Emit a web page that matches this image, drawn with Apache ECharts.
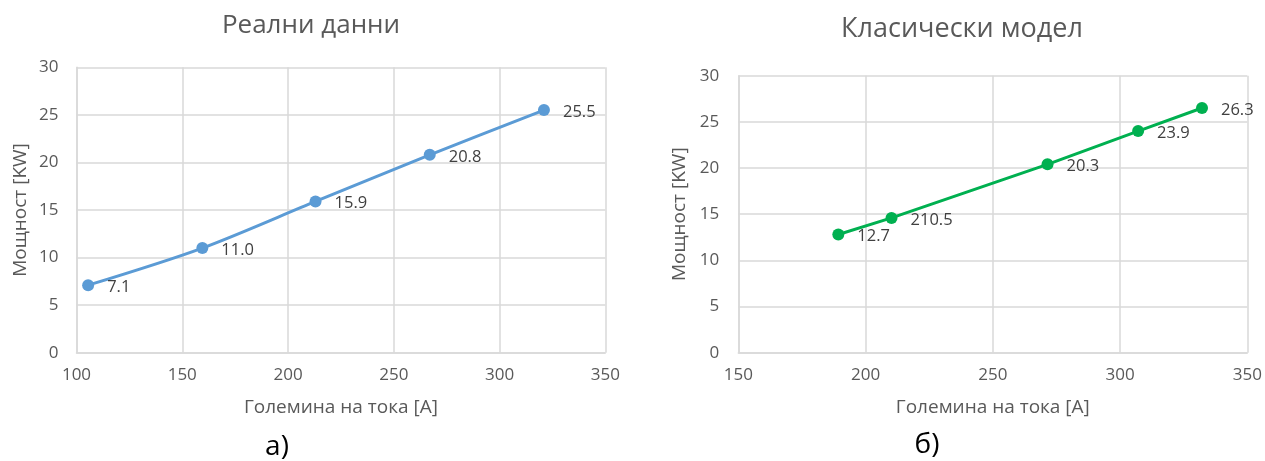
<!DOCTYPE html>
<html>
<head>
<meta charset="utf-8">
<script src="https://cdn.jsdelivr.net/npm/echarts@6/dist/echarts.min.js"></script>
<style>
html,body{margin:0;padding:0;background:#fff;}
#chart{width:1265px;height:461px;}
</style>
</head>
<body>
<div id="chart"></div>
<script>
// Left chart: real data
const realCurrent = [105.5, 159.5, 213, 267, 321];
const realPower = [7.1, 11.0, 15.9, 20.8, 25.5];
const realLabels = ['7.1', '11.0', '15.9', '20.8', '25.5'];
// Right chart: classical model
const modelCurrent = [189.3, 210.2, 271.5, 307.1, 332.2];
const modelPower = [12.8, 14.6, 20.4, 24.0, 26.5];
const modelLabels = ['12.7', '210.5', '20.3', '23.9', '26.3'];

const titleLeft = 'Реални данни';
const titleRight = 'Класически модел';
const xName = 'Големина на тока [А]';
const yName = 'Мощност [KW]';
const captionLeft = 'а)';
const captionRight = 'б)';

const FONT = '"Open Sans", "Noto Sans", sans-serif';
const gridColor = '#d9d9d9';
const tickColor = '#595959';

function xAxisCfg(gridIndex, min, gap) {
  return {
    type: 'value', gridIndex, min, max: 350, interval: 50,
    name: xName, nameLocation: 'middle', nameGap: gap,
    nameTextStyle: {fontFamily: FONT, fontSize: 19, color: tickColor},
    axisLine: {show: true, lineStyle: {color: gridColor, width: 1.5}},
    axisTick: {show: false},
    axisLabel: {fontFamily: FONT, fontSize: 17, color: tickColor, margin: 14},
    splitLine: {show: true, lineStyle: {color: gridColor, width: 1.5}}
  };
}
function yAxisCfg(gridIndex, gap, lm) {
  return {
    type: 'value', gridIndex, min: 0, max: 30, interval: 5,
    name: yName, nameLocation: 'middle', nameGap: gap,
    nameTextStyle: {fontFamily: FONT, fontSize: 19, color: tickColor},
    axisLine: {show: true, lineStyle: {color: gridColor, width: 1.5}},
    axisTick: {show: false},
    axisLabel: {fontFamily: FONT, fontSize: 17, color: tickColor, margin: lm},
    splitLine: {show: true, lineStyle: {color: gridColor, width: 1.5}}
  };
}
function seriesCfg(idx, xs, ys, labels, color, smooth) {
  return {
    type: 'line', xAxisIndex: idx, yAxisIndex: idx,
    data: xs.map((x, i) => [x, ys[i]]),
    smooth: smooth,
    symbol: 'circle', symbolSize: 12,
    lineStyle: {color, width: 3},
    itemStyle: {color},
    label: {
      show: true, position: 'right', distance: 13, offset: [0, 2],
      fontFamily: FONT, fontSize: 16.5, color: '#404040',
      formatter: p => labels[p.dataIndex]
    },
    animation: false
  };
}

const chart = echarts.init(document.getElementById('chart'), null, {renderer: 'canvas'});
chart.setOption({
  backgroundColor: '#fff',
  animation: false,
  grid: [
    {left: 76.5, right: 1265 - 605.3, top: 67.3, bottom: 461 - 352.7},
    {left: 738.3, right: 1265 - 1247.3, top: 75.7, bottom: 461 - 352.7}
  ],
  xAxis: [xAxisCfg(0, 100, 45), xAxisCfg(1, 150, 45)],
  yAxis: [yAxisCfg(0, 46, 18), yAxisCfg(1, 49, 19)],
  series: [
    seriesCfg(0, realCurrent, realPower, realLabels, '#5b9bd5', 0.3),
    seriesCfg(1, modelCurrent, modelPower, modelLabels, '#00b050', false)
  ],
  graphic: [
    {type: 'text', x: 311, y: 26, style: {text: titleLeft, font: '26px ' + FONT, fill: tickColor, align: 'center', verticalAlign: 'middle'}},
    {type: 'text', x: 962, y: 29, style: {text: titleRight, font: '27px ' + FONT, fill: tickColor, align: 'center', verticalAlign: 'middle'}},
    {type: 'text', x: 277, y: 447, style: {text: captionLeft, font: '28px ' + FONT, fill: '#000', align: 'center', verticalAlign: 'middle'}},
    {type: 'text', x: 927, y: 445, style: {text: captionRight, font: '28px ' + FONT, fill: '#000', align: 'center', verticalAlign: 'middle'}}
  ]
});
</script>
</body>
</html>
